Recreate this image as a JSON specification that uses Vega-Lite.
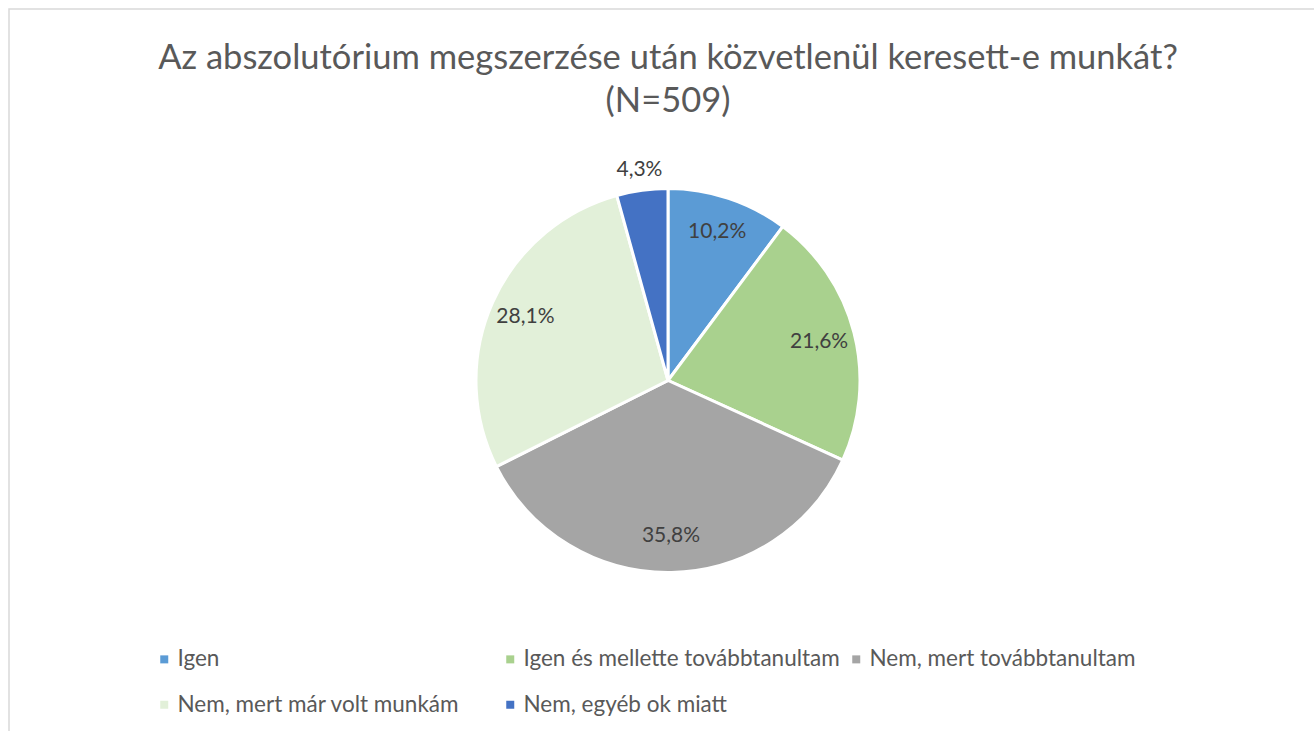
{
  "$schema": "https://vega.github.io/schema/vega-lite/v6.json",
  "width": 1318,
  "height": 743,
  "autosize": {"type": "none"},
  "padding": {"left": 9, "top": 9, "right": 0, "bottom": 0},
  "background": "white",
  "view": {"stroke": "#D9D9D9", "strokeWidth": 1.5},
  "config": {
    "view": {"stroke": "#D9D9D9", "strokeWidth": 1.5},
    "font": "Lato",
    "locale": {"number": {"decimal": ",", "thousands": " ", "grouping": [3], "currency": ["", " Ft"]}}
  },
  "title": {
    "text": ["Az abszolutórium megszerzése után közvetlenül keresett-e munkát?", "(N=509)"],
    "font": "Lato",
    "fontSize": 34.5,
    "fontWeight": "normal",
    "color": "#595959",
    "lineHeight": 43,
    "anchor": "middle",
    "offset": -110
  },
  "data": {
    "values": [
      {"idx": 1, "cat": "Igen", "share": 0.102},
      {"idx": 2, "cat": "Igen és mellette továbbtanultam", "share": 0.216},
      {"idx": 3, "cat": "Nem, mert továbbtanultam", "share": 0.358},
      {"idx": 4, "cat": "Nem, mert már volt munkám", "share": 0.281},
      {"idx": 5, "cat": "Nem, egyéb ok miatt", "share": 0.043}
    ]
  },
  "encoding": {
    "theta": {"field": "share", "type": "quantitative", "stack": true},
    "order": {"field": "idx", "type": "quantitative"}
  },
  "layer": [
    {
      "mark": {"type": "arc", "outerRadius": 192, "stroke": "white", "strokeWidth": 3},
      "encoding": {
        "color": {
          "field": "cat",
          "type": "nominal",
          "scale": {
            "domain": ["Igen", "Igen és mellette továbbtanultam", "Nem, mert továbbtanultam", "Nem, mert már volt munkám", "Nem, egyéb ok miatt"],
            "range": ["#5B9BD5", "#A9D18E", "#A5A5A5", "#E2F0D9", "#4472C4"]
          },
          "legend": {
            "orient": "none",
            "direction": "horizontal",
            "legendX": 144,
            "legendY": 639,
            "title": null,
            "columns": 3,
            "gridAlign": "all",
            "padding": 0,
            "symbolType": "square",
            "symbolSize": 64,
            "symbolStrokeWidth": 0,
            "labelFont": "Lato",
            "labelFontSize": 22.5,
            "labelColor": "#595959",
            "labelOffset": 2,
            "labelLimit": 1000,
            "columnPadding": 5,
            "rowPadding": 22.5
          }
        }
      }
    },
    {
      "mark": {"type": "text", "radius": 156, "font": "Lato", "fontSize": 21, "color": "#404040"},
      "encoding": {
        "text": {"condition": {"test": "datum.share < 0.05", "value": ""}, "field": "share", "type": "quantitative", "format": ".1%"}
      }
    },
    {
      "mark": {"type": "text", "radius": 212, "font": "Lato", "fontSize": 21, "color": "#404040"},
      "encoding": {
        "text": {"condition": {"test": "datum.share >= 0.05", "value": ""}, "field": "share", "type": "quantitative", "format": ".1%"}
      }
    }
  ]
}
